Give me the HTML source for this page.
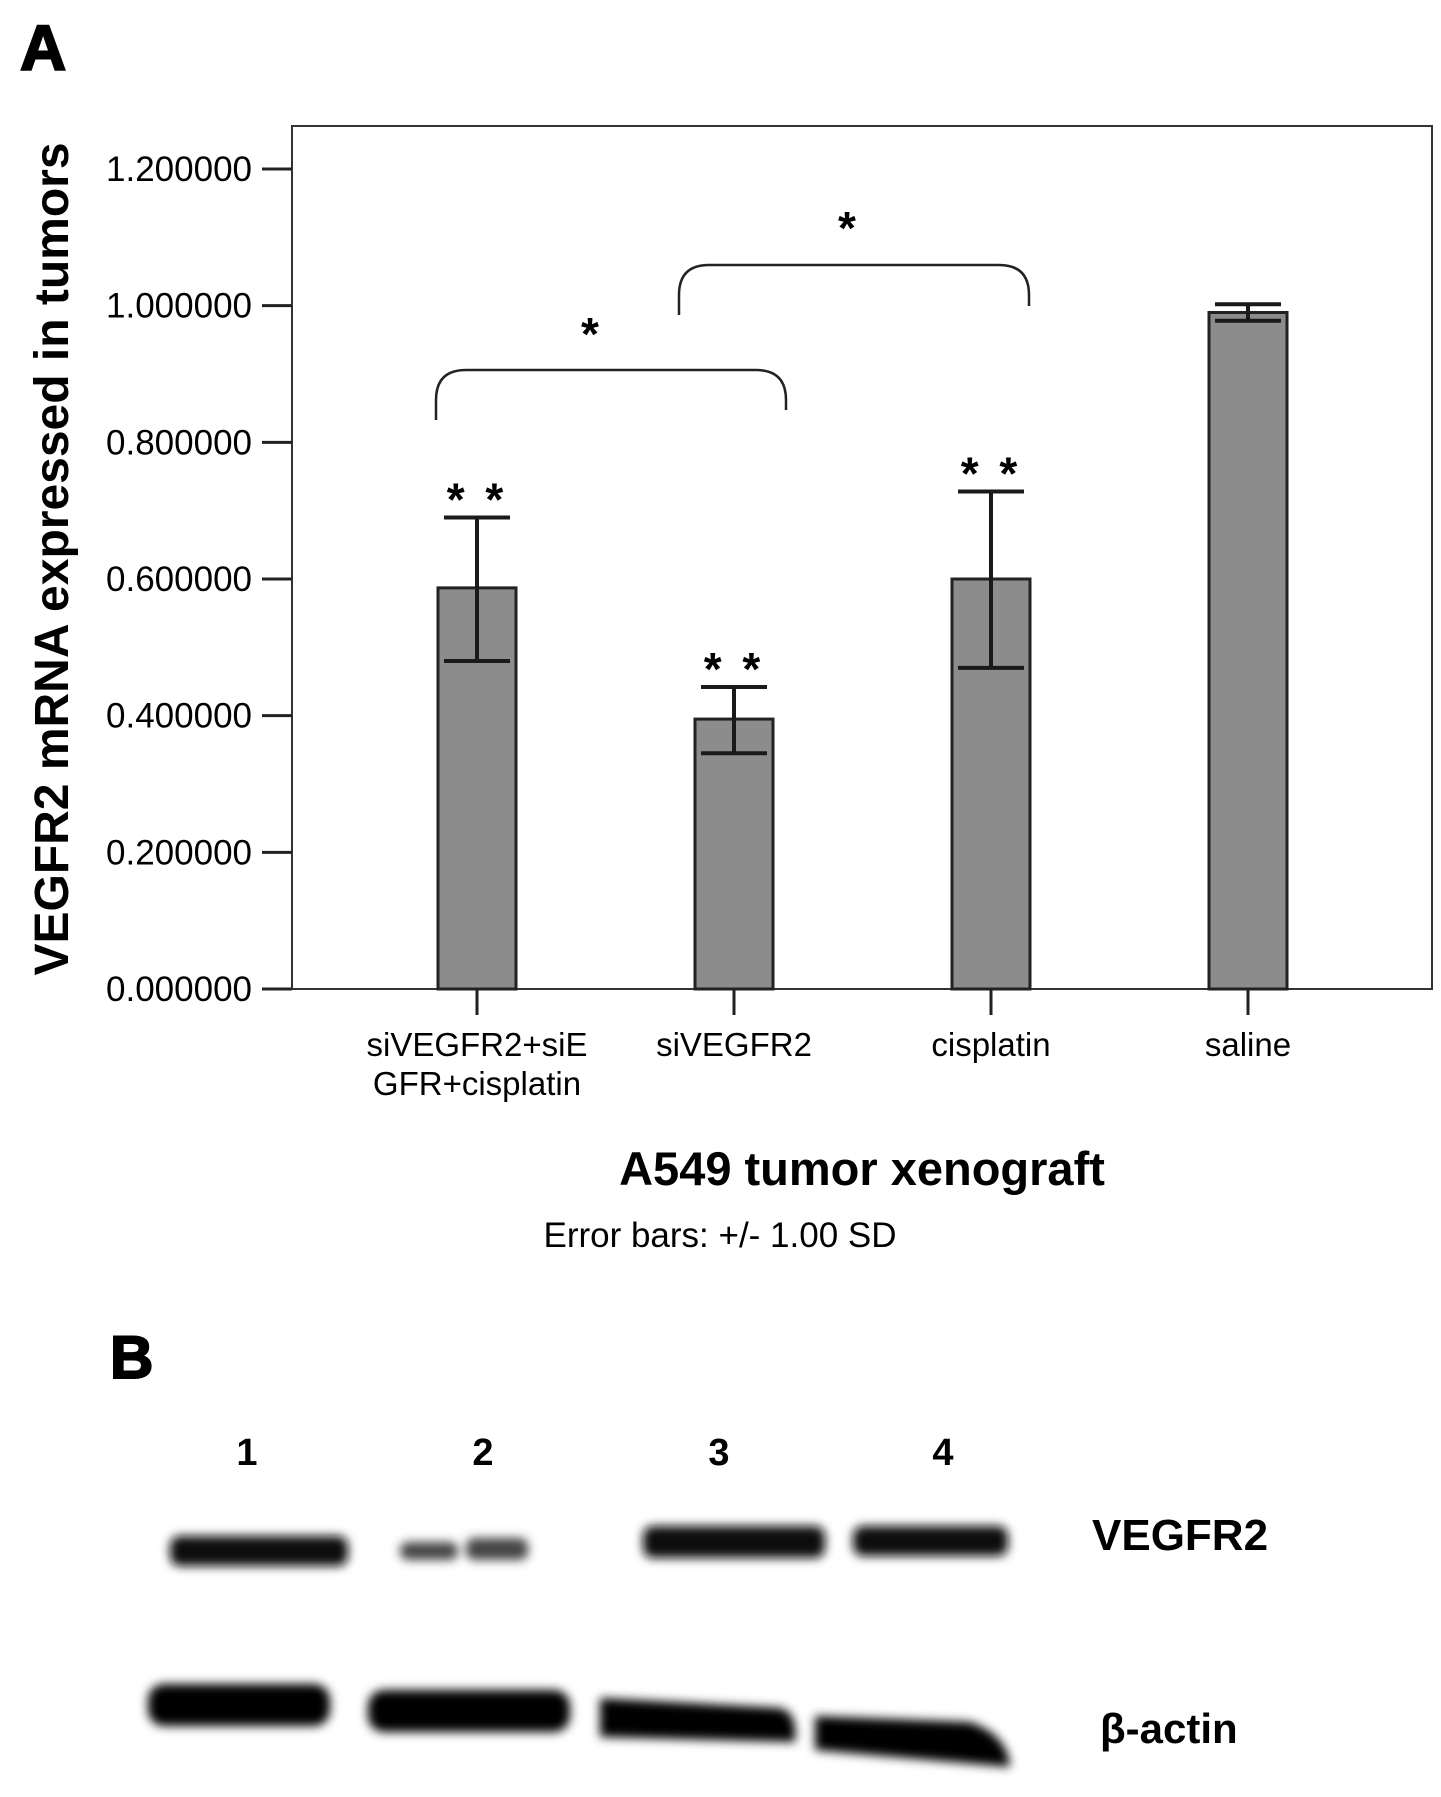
<!DOCTYPE html>
<html><head><meta charset="utf-8"><style>
html,body{margin:0;padding:0;background:#fff}
svg{display:block}
text{font-family:"Liberation Sans",sans-serif;fill:#000}
</style></head><body>
<svg id="fig" width="1441" height="1797" viewBox="0 0 1441 1797">
<defs>
<filter id="blur" x="-20%" y="-50%" width="140%" height="200%"><feGaussianBlur stdDeviation="5"/></filter>
</defs>
<text x="20" y="70" font-size="64" font-weight="bold" stroke="#000" stroke-width="2">A</text>
<rect x="292" y="126" width="1140" height="863" fill="none" stroke="#333" stroke-width="2"/>
<g id="yaxis"></g>
<g id="bars"></g>
<g id="xaxis"></g>
<text transform="translate(68,559) rotate(-90)" text-anchor="middle" font-size="48" font-weight="bold">VEGFR2 mRNA expressed in tumors</text>
<text x="862" y="1185" text-anchor="middle" font-size="47" font-weight="bold">A549 tumor xenograft</text>
<text x="720" y="1247" text-anchor="middle" font-size="35">Error bars: +/- 1.00 SD</text>
<g fill="none" stroke="#222" stroke-width="2.5">
<path d="M436,420 L436,400 Q436,370 466,370 L756,370 Q786,370 786,400 L786,410"/>
<path d="M679,315 L679,295 Q679,265 709,265 L999,265 Q1029,265 1029,295 L1029,306"/>
</g>
<text x="590" y="350" text-anchor="middle" font-size="46" font-weight="bold">*</text>
<text x="847" y="244" text-anchor="middle" font-size="46" font-weight="bold">*</text>

<text x="110" y="1378" font-size="60" font-weight="bold" stroke="#000" stroke-width="2">B</text>
<g font-size="38" font-weight="bold" text-anchor="middle">
<text x="247" y="1465">1</text><text x="483" y="1465">2</text><text x="719" y="1465">3</text><text x="943" y="1465">4</text>
</g>
<g filter="url(#blur)" fill="#111">
<rect x="170" y="1536" width="178" height="30" rx="10"/>
<rect x="400" y="1542" width="58" height="18" rx="8" fill="#444"/>
<rect x="466" y="1538" width="62" height="22" rx="8" fill="#444"/>
<rect x="643" y="1526" width="182" height="32" rx="10"/>
<rect x="853" y="1526" width="155" height="30" rx="10"/>
<rect x="148" y="1684" width="182" height="42" rx="16" fill="#000"/>
<rect x="368" y="1690" width="202" height="42" rx="16" fill="#000"/>
<path d="M600,1698 L780,1708 Q798,1712 795,1742 L600,1737 Z" fill="#000"/>
<path d="M815,1716 L970,1722 Q1008,1735 1010,1767 L815,1750 Z" fill="#000"/>
</g>
<text x="1092" y="1550" font-size="44" font-weight="bold">VEGFR2</text>
<text x="1100" y="1743" font-size="42" font-weight="bold" font-family="Liberation Sans, DejaVu Sans, sans-serif">β-actin</text>
</svg>
<script>
const categories = ["siVEGFR2+siE|GFR+cisplatin", "siVEGFR2", "cisplatin", "saline"];
const means = [0.587, 0.395, 0.600, 0.990];
const errHigh = [0.690, 0.442, 0.728, 1.002];
const errLow = [0.480, 0.345, 0.470, 0.978];
const sigMarks = ["* *", "* *", "* *", ""];
const tickValues = [0, 0.2, 0.4, 0.6, 0.8, 1.0, 1.2];
const tickLabels = ["0.000000", "0.200000", "0.400000", "0.600000", "0.800000", "1.000000", "1.200000"];

const NS = "http://www.w3.org/2000/svg";
const y0 = 989, pxPerUnit = (989 - 169) / 1.2;
const yScale = v => y0 - v * pxPerUnit;
const xScale = i => 477 + i * 257;
const barW = 78;
function mk(tag, attrs, parent) {
  const e = document.createElementNS(NS, tag);
  for (const k in attrs) e.setAttribute(k, attrs[k]);
  parent.appendChild(e);
  return e;
}
const yg = document.getElementById('yaxis');
tickValues.forEach((v, i) => {
  const y = yScale(v);
  const t = mk('line', {x1: 262, x2: 292, y1: y, y2: y, stroke: '#222', 'stroke-width': 3}, yg);
  
  
  const l = mk('text', {x: 252, y: y + 12, 'text-anchor': 'end', 'font-size': 35}, yg);
  l.textContent = tickLabels[i];
  
  
});
const bg = document.getElementById('bars');
const xg = document.getElementById('xaxis');
categories.forEach((c, i) => {
  const cx = xScale(i);
  const r = mk('rect', {x: cx - barW / 2, y: yScale(means[i]), width: barW, height: y0 - yScale(means[i]), fill: '#8c8c8c', stroke: '#222', 'stroke-width': 3}, bg);
  
  
  const eg = mk('g', {stroke: '#1a1a1a', 'stroke-width': 4}, bg);
  
  
  mk('line', {x1: cx, x2: cx, y1: yScale(errHigh[i]), y2: yScale(errLow[i])}, eg);
  mk('line', {x1: cx - 33, x2: cx + 33, y1: yScale(errHigh[i]), y2: yScale(errHigh[i])}, eg);
  mk('line', {x1: cx - 33, x2: cx + 33, y1: yScale(errLow[i]), y2: yScale(errLow[i])}, eg);
  if (sigMarks[i]) {
    const s = mk('text', {x: cx, y: yScale(errHigh[i]) - 2, 'text-anchor': 'middle', 'font-size': 46, 'font-weight': 'bold', 'letter-spacing': 4}, bg);
    s.textContent = sigMarks[i];
    
    
  }
  const tk = mk('line', {x1: cx, x2: cx, y1: y0, y2: y0 + 26, stroke: '#222', 'stroke-width': 3}, xg);
  
  
  c.split('|').forEach((ln, j) => {
    const t = mk('text', {x: cx, y: 1056 + j * 39, 'text-anchor': 'middle', 'font-size': 33}, xg);
    t.textContent = ln;
    
    
  });
});
</script>
</body></html>
